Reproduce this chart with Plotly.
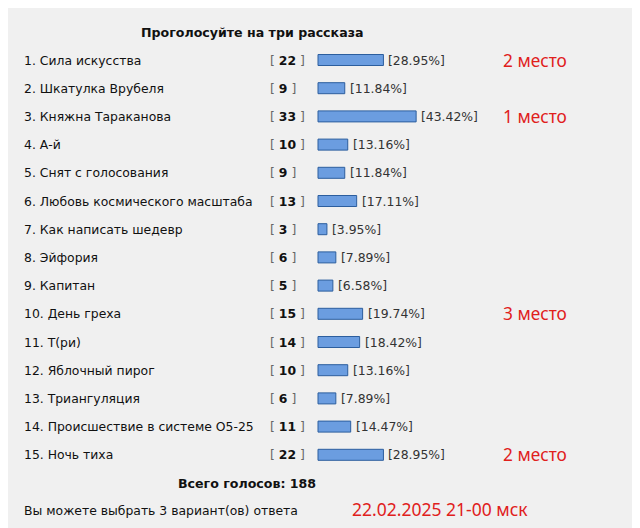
import plotly.graph_objects as go

labels = ["Сила искусства", "Шкатулка Врубеля", "Княжна Тараканова", "А-й", "Снят с голосования",
          "Любовь космического масштаба", "Как написать шедевр", "Эйфория", "Капитан", "День греха",
          "Т(ри)", "Яблочный пирог", "Триангуляция", "Происшествие в системе О5-25", "Ночь тиха"]
votes = [22, 9, 33, 10, 9, 13, 3, 6, 5, 15, 14, 10, 6, 11, 22]
pcts = ["28.95", "11.84", "43.42", "13.16", "11.84", "17.11", "3.95", "7.89", "6.58", "19.74",
        "18.42", "13.16", "7.89", "14.47", "28.95"]
places = {0: "2 место", 2: "1 место", 9: "3 место", 14: "2 место"}
total = 188

y0, dy = 60, 28.2
ys = [y0 + i * dy for i in range(len(labels))]
scale = 2.26
bx = 318
F = "DejaVu Sans"
FS = 12.4

fig = go.Figure(go.Bar(
    y=ys, x=[float(p) * scale for p in pcts], base=bx, orientation="h", width=11,
    marker=dict(color="#6b9de0", line=dict(color="#2c5e9e", width=1)), hoverinfo="skip"))

ann = []
for i, (lab, v, p) in enumerate(zip(labels, votes, pcts)):
    y = ys[i]
    ann.append(dict(x=22, y=y, text=f"{i+1}. {lab}", xanchor="left", font=dict(size=FS)))
    ann.append(dict(x=268, y=y, text=f"<span style='color:#666'>[</span> <b>{v}</b> <span style='color:#666'>]</span>",
                    xanchor="left", font=dict(size=FS)))
    ann.append(dict(x=bx + float(p) * scale + 3, y=y, text=f"[{p}%]", xanchor="left",
                    font=dict(size=FS, color="#333333")))
    if i in places:
        ann.append(dict(x=501, y=y, text=places[i], xanchor="left",
                        font=dict(size=17.3, color="#e0201c", family="Noto Sans")))
ann.append(dict(x=252, y=32, text="<b>Проголосуйте на три рассказа</b>", xanchor="center", font=dict(size=12.6)))
ann.append(dict(x=247, y=483, text=f"<b>Всего голосов: {total}</b>", xanchor="center", font=dict(size=12.6)))
ann.append(dict(x=22, y=510, text="Вы можете выбрать 3 вариант(ов) ответа", xanchor="left", font=dict(size=FS)))
ann.append(dict(x=350, y=509, text="22.02.2025 21-00 мск", xanchor="left",
                font=dict(size=17.5, color="#e0201c", family="Noto Sans")))
for a in ann:
    a.update(xref="x", yref="y", showarrow=False, yanchor="middle")
    a["font"].setdefault("color", "#111111")
    a["font"].setdefault("family", F)

fig.update_layout(width=640, height=528, margin=dict(l=0, r=0, t=0, b=0),
                  paper_bgcolor="#f0f0f0", plot_bgcolor="#f0f0f0", showlegend=False,
                  xaxis=dict(range=[8, 648], visible=False, fixedrange=True),
                  yaxis=dict(range=[536, 8], visible=False, fixedrange=True),
                  annotations=ann)
fig.write_html("out.html", config={"displayModeBar": False})
